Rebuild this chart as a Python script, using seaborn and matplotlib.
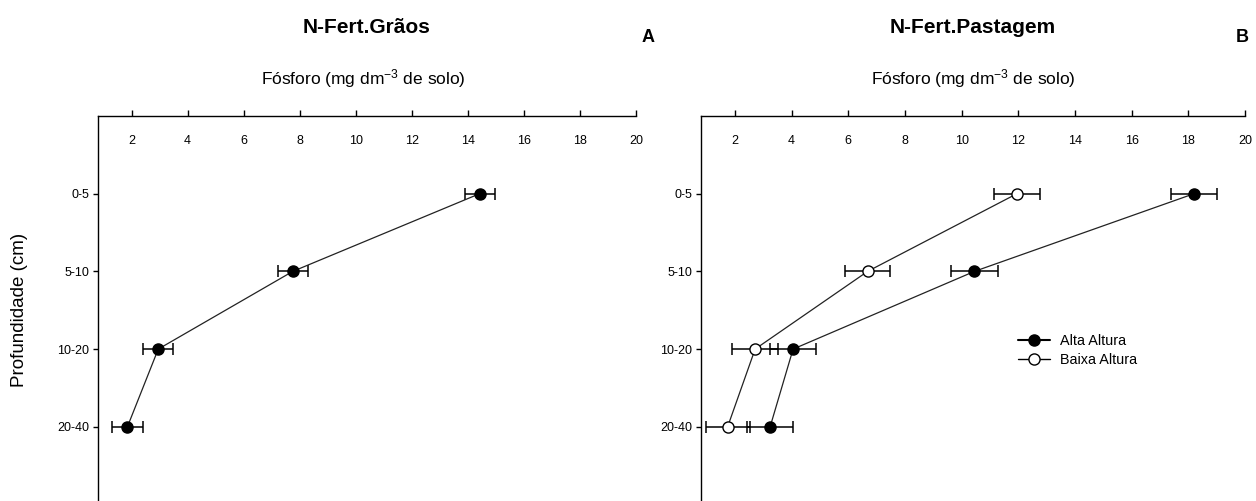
import numpy as np
import pandas as pd
import matplotlib
matplotlib.use("Agg")
import matplotlib.pyplot as plt
import seaborn as sns
from matplotlib.lines import Line2D

# ---------------- data ----------------
depths = ["0-5", "5-10", "10-20", "20-40"]

graos_p = [14.42, 7.75, 2.95, 1.85]
graos_err = [0.54, 0.54, 0.54, 0.54]

alta_p = [18.2, 10.45, 4.05, 3.24]
alta_err = [0.8, 0.82, 0.8, 0.8]
baixa_p = [11.95, 6.68, 2.71, 1.74]
baixa_err = [0.8, 0.8, 0.8, 0.78]

xticks = [2, 4, 6, 8, 10, 12, 14, 16, 18, 20]

titles = ["N-Fert.Grãos", "N-Fert.Pastagem"]
letters = ["A", "B"]
xlabel = "Fósforo (mg dm$^{-3}$ de solo)"
ylabel = "Profundidade (cm)"
series_names = ["Alta Altura", "Baixa Altura"]

# ---------------- style ----------------
sns.set_style("ticks")
plt.rcParams["font.family"] = ["Liberation Sans", "DejaVu Sans"]
plt.rcParams["mathtext.fontset"] = "custom"
plt.rcParams["mathtext.rm"] = "Liberation Sans"
plt.rcParams["mathtext.it"] = "Liberation Sans:italic"
plt.rcParams["mathtext.bf"] = "Liberation Sans:bold"
plt.rcParams["text.color"] = "black"

W, H = 1256, 501
fig = plt.figure(figsize=(W / 100, H / 100), dpi=100)

def px_axes(x0, x1, ytop, ybot):
    return fig.add_axes([x0 / W, 1 - ybot / H, (x1 - x0) / W, (ybot - ytop) / H])

axA = px_axes(98, 636, 116, 504.5)
axB = px_axes(701, 1245, 116, 504.5)

pos = np.arange(len(depths))

def draw_series(ax, vals, errs, filled, label=None):
    df = pd.DataFrame({"P": vals, "pos": pos})
    ax.errorbar(df["P"], df["pos"], xerr=errs, fmt="none", ecolor="black",
                elinewidth=1.1, capsize=4.2, capthick=1.1, zorder=2)
    sns.lineplot(data=df, x="P", y="pos", orient="y", sort=False,
                 estimator=None, ax=ax, color="#222222", linewidth=0.9,
                 marker="o", markersize=8,
                 markerfacecolor="black" if filled else "white",
                 markeredgecolor="black", markeredgewidth=1.0,
                 zorder=3, label=label, legend=False)

draw_series(axA, graos_p, graos_err, True)
draw_series(axB, alta_p, alta_err, True)
draw_series(axB, baixa_p, baixa_err, False)

for ax in (axA, axB):
    ax.set_xlim(0.8, 20)
    ax.set_ylim(4, -1)
    ax.set_xticks(xticks)
    ax.set_xticklabels([str(t) for t in xticks])
    ax.set_yticks(pos)
    ax.set_yticklabels(depths)
    ax.set_xlabel("")
    ax.set_ylabel("")
    for s in ("right", "bottom"):
        ax.spines[s].set_visible(False)
    for s in ("top", "left"):
        ax.spines[s].set_linewidth(1.0)
        ax.spines[s].set_color("black")
    ax.tick_params(axis="x", bottom=False, labelbottom=False, top=True,
                   labeltop=True, direction="out", length=4, width=1,
                   pad=-26, labelsize=9, colors="black")
    ax.tick_params(axis="y", left=True, direction="out", length=3.6, width=1,
                   pad=2.5, labelsize=9, colors="black")
    ax.set_facecolor("white")
    ax.patch.set_alpha(0)

# titles, labels, panel letters
title_x = [367, 973]
xlabel_x = [363, 973]
letter_x = [648, 1242]
for i in range(2):
    fig.text(title_x[i] / W, 1 - 33 / H, titles[i], ha="center", va="baseline",
             fontsize=15, fontweight="bold", color="black")
    fig.text(xlabel_x[i] / W, 1 - 84 / H, xlabel, ha="center", va="baseline",
             fontsize=12.5, color="black")
    fig.text(letter_x[i] / W, 1 - 37 / H, letters[i], ha="center", va="center",
             fontsize=13, fontweight="bold", color="black")

fig.text(20 / W, 1 - 310 / H, ylabel, rotation=90, ha="center", va="center",
         fontsize=13.5, color="black")

handles = [
    Line2D([], [], color="black", linewidth=1.5, marker="o", markersize=8,
           markerfacecolor="black", markeredgecolor="black"),
    Line2D([], [], color="black", linewidth=1.0, marker="o", markersize=8,
           markerfacecolor="white", markeredgecolor="black"),
]
leg = fig.legend(handles, series_names, loc="center left",
                 bbox_to_anchor=(1018 / W, 1 - 350.5 / H), bbox_transform=fig.transFigure,
                 frameon=False, fontsize=10.4, handlelength=2.2, handletextpad=0.7,
                 labelspacing=0.35, borderpad=0, borderaxespad=0)
for t in leg.get_texts():
    t.set_color("black")

fig.savefig("out.png", dpi=100, facecolor="white")
